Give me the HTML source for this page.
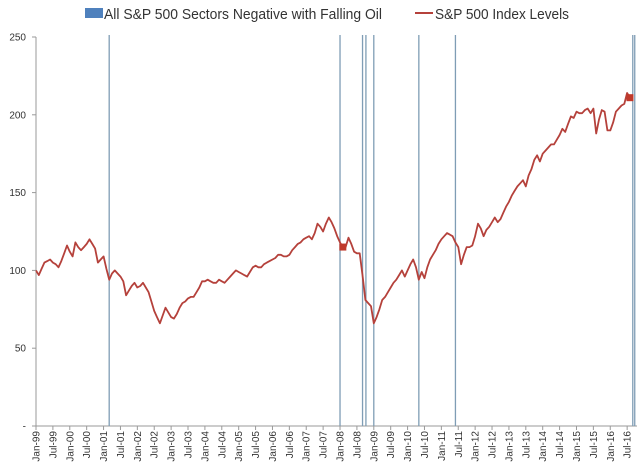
<!DOCTYPE html>
<html><head><meta charset="utf-8"><style>
body{margin:0;background:#fff;}
svg{display:block;font-family:"Liberation Sans",sans-serif;}
</style></head><body>
<svg id="chart" width="640" height="466" viewBox="0 0 640 466">
<g id="legend">
  <rect x="85" y="8" width="18" height="10" fill="#4f81bd"/>
  <text x="104" y="19" font-size="15" fill="#333" textLength="278" lengthAdjust="spacingAndGlyphs">All S&amp;P 500 Sectors Negative with Falling Oil</text>
  <line x1="415" y1="13" x2="433" y2="13" stroke="#b5413b" stroke-width="2"/>
  <text x="435" y="19" font-size="15" fill="#333" textLength="134" lengthAdjust="spacingAndGlyphs">S&amp;P 500 Index Levels</text>
</g>
<g id="yaxis"></g>
<g id="xaxis"></g>
<g id="events"></g>
<g id="series"></g>
</svg>
<script>
const yTicks = [0, 50, 100, 150, 200, 250];
const yTickLabels = ["-", "50", "100", "150", "200", "250"];
const xTickLabels = ["Jan-99","Jul-99","Jan-00","Jul-00","Jan-01","Jul-01","Jan-02","Jul-02","Jan-03","Jul-03","Jan-04","Jul-04","Jan-05","Jul-05","Jan-06","Jul-06","Jan-07","Jul-07","Jan-08","Jul-08","Jan-09","Jul-09","Jan-10","Jul-10","Jan-11","Jul-11","Jan-12","Jul-12","Jan-13","Jul-13","Jan-14","Jul-14","Jan-15","Jul-15","Jan-16","Jul-16"];
// month index (0 = Jan-99) of events where all sectors were negative with falling oil
const eventMonths = [26, 108, 116, 117.2, 120, 136, 149, 212, 212.7];
// monthly index levels starting Jan-99
const indexLevels = [
100,97,101,105,106,107,105,104,102,106,111,116,
112,109,118,115,113,115,117,120,117,114,105,107,
109,101,94,98,100,98,96,93,84,87,90,92,
89,90,92,89,86,80,74,70,66,71,76,73,
70,69,72,76,79,80,82,83,83,86,89,93,
93,94,93,92,92,94,93,92,94,96,98,100,
99,98,97,96,99,102,103,102,102,104,105,106,
107,108,110,110,109,109,110,113,115,117,118,120,
121,122,120,124,130,128,125,130,134,131,127,122,
118,115,115,121,117,112,111,111,97,81,79,77,
66,70,75,81,83,86,89,92,94,97,100,96,
100,104,107,102,94,99,95,102,107,110,113,117,
120,122,124,123,122,118,115,104,110,115,115,116,
122,130,127,122,126,128,131,134,131,133,137,141,
144,148,151,154,156,158,154,161,165,171,174,170,
175,177,179,181,181,184,187,191,189,194,199,198,
202,201,201,203,204,201,204,188,197,203,202,190,
190,195,202,204,206,207,214,211,210];
// marker months (square markers on series)
const markerMonths = [109, 211];

const NS = "http://www.w3.org/2000/svg";
const X0 = 36, PXM = 2.815, Y0 = 426, PXV = 1.556, TOP = 37, RIGHT = 637;
const xs = m => X0 + m * PXM;
const ys = v => Y0 - v * PXV;
function mk(tag, attrs, parent) {
  const e = document.createElementNS(NS, tag);
  for (const k in attrs) e.setAttribute(k, attrs[k]);
  parent.appendChild(e);
  return e;
}
const yG = document.getElementById("yaxis");
const ax = mk("line", {x1: X0, y1: TOP, x2: X0, y2: Y0, stroke: "#999", "stroke-width": 1}, yG);


yTicks.forEach((v, i) => {
  const t = mk("line", {x1: X0 - 4, y1: ys(v), x2: X0, y2: ys(v), stroke: "#999"}, yG);
  
  
  const l = mk("text", {x: 26, y: ys(v) + 3.5, "font-size": 10, fill: "#333", "text-anchor": "end"}, yG);
  l.textContent = yTickLabels[i];
  
  
});
const xG = document.getElementById("xaxis");
const bx = mk("line", {x1: X0, y1: Y0, x2: RIGHT, y2: Y0, stroke: "#999", "stroke-width": 1}, xG);


xTickLabels.forEach((lab, i) => {
  const x = xs(i * 6);
  const t = mk("line", {x1: x, y1: Y0, x2: x, y2: Y0 + 4, stroke: "#999"}, xG);
  
  
  const l = mk("text", {x: 0, y: 0, "font-size": 10, fill: "#333", "text-anchor": "end", transform: `translate(${x + 3.5},${Y0 + 5}) rotate(-90)`}, xG);
  l.textContent = lab;
  
  
});
const eG = document.getElementById("events");
eventMonths.forEach(m => {
  const l = mk("line", {x1: xs(m), y1: TOP - 2, x2: xs(m), y2: Y0, stroke: "#7f9db5", "stroke-width": 1.3}, eG);
  
  
});
const sG = document.getElementById("series");
const pts = indexLevels.map((v, i) => xs(i).toFixed(1) + "," + ys(v).toFixed(1)).join(" ");
const pl = mk("polyline", {points: pts, fill: "none", stroke: "#b5413b", "stroke-width": 1.8, "stroke-linejoin": "round"}, sG);


markerMonths.forEach(m => {
  const r = mk("rect", {x: xs(m) - 3.5, y: ys(indexLevels[m]) - 3.5, width: 7, height: 7, fill: "#c0392b"}, sG);
  
  
});
</script>
</body></html>
